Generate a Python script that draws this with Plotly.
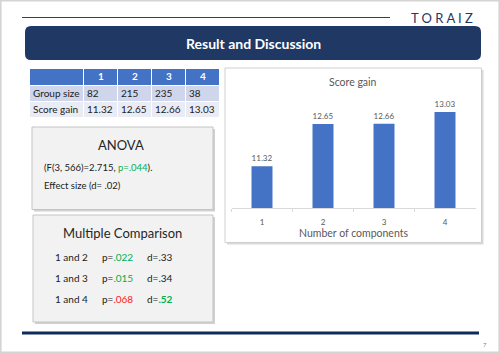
import plotly.graph_objects as go

# ---------------- data ----------------
components = ["1", "2", "3", "4"]
group_size = [82, 215, 235, 38]
score_gain = [11.32, 12.65, 12.66, 13.03]
row_labels = ["Group size", "Score gain"]

anova_stat = "(F(3, 566)=2.715, "
anova_p = "p=.044"
effect_size = "Effect size (d= .02)"

pairs = ["1 and 2", "1 and 3", "1 and 4"]
pair_p = [".022", ".015", ".068"]
pair_p_sig = [True, True, False]
pair_d = [".33", ".34", ".52"]
pair_d_big = [False, False, True]

W, H = 500, 353
FONT = "Lato, 'Open Sans', sans-serif"
NAVY = "#1F3864"
BLUE = "#4472C4"
GREEN = "#00B050"
RED = "#FF2020"
GRAY = "#595959"


def X(px):
    return px / W


def Y(py):
    return 1 - py / H


fig = go.Figure()

# ---------------- bar chart ----------------
fig.add_trace(go.Bar(
    x=components, y=score_gain,
    marker=dict(color=BLUE, line=dict(width=0)),
    texttemplate="%{y:.2f}", textposition="outside",
    textfont=dict(size=8, color=GRAY, family=FONT),
    cliponaxis=False, hoverinfo="skip",
    xaxis="x", yaxis="y",
))

# ---------------- table (heatmap cells + text) ----------------
col_w = [54, 34, 34, 34, 34]
row_h = [17, 16, 16]
col_edges = [0]
for w in col_w:
    col_edges.append(col_edges[-1] + w)
row_edges = [0]
for h in row_h:
    row_edges.append(row_edges[-1] + h)
col_left = col_edges[:-1]
col_mid = [(a + b) / 2 for a, b in zip(col_edges[:-1], col_edges[1:])]
row_mid = [(a + b) / 2 for a, b in zip(row_edges[:-1], row_edges[1:])]

fig.add_trace(go.Heatmap(
    x=col_edges, y=row_edges,
    z=[[0] * 5, [1] * 5, [2] * 5],
    zmin=0, zmax=2, showscale=False, hoverinfo="skip",
    colorscale=[[0, BLUE], [0.5, "#CFD5EA"], [1, "#E9EBF5"]],
    xgap=1, ygap=1, xaxis="x2", yaxis="y2",
))
# header
fig.add_trace(go.Scatter(
    x=col_mid[1:], y=[row_mid[0]] * 4, mode="text",
    text=["<b>%s</b>" % c for c in components], textposition="middle center",
    textfont=dict(size=10, color="white", family=FONT),
    hoverinfo="skip", cliponaxis=False, xaxis="x2", yaxis="y2",
))
# body
body_x, body_y, body_t = [], [], []
for r, (lab, vals) in enumerate(zip(row_labels, [[str(g) for g in group_size],
                                                  ["%.2f" % s for s in score_gain]])):
    cells = [lab] + vals
    for c, t in enumerate(cells):
        body_x.append(col_left[c] + 3)
        body_y.append(row_mid[r + 1])
        body_t.append(t)
fig.add_trace(go.Scatter(
    x=body_x, y=body_y, mode="text", text=body_t, textposition="middle right",
    textfont=dict(size=10, color="#222222", family=FONT),
    hoverinfo="skip", cliponaxis=False, xaxis="x2", yaxis="y2",
))


def rounded_rect(x0, y0, x1, y1, r):
    pts = [
        f"M {X(x0 + r)} {Y(y0)}",
        f"L {X(x1 - r)} {Y(y0)}",
        f"Q {X(x1)} {Y(y0)} {X(x1)} {Y(y0 + r)}",
        f"L {X(x1)} {Y(y1 - r)}",
        f"Q {X(x1)} {Y(y1)} {X(x1 - r)} {Y(y1)}",
        f"L {X(x0 + r)} {Y(y1)}",
        f"Q {X(x0)} {Y(y1)} {X(x0)} {Y(y1 - r)}",
        f"L {X(x0)} {Y(y0 + r)}",
        f"Q {X(x0)} {Y(y0)} {X(x0 + r)} {Y(y0)}",
        "Z",
    ]
    return " ".join(pts)


def rect(x0, y0, x1, y1, fill, line=None, lw=1):
    return dict(type="rect", xref="paper", yref="paper", layer="below",
                x0=X(x0), x1=X(x1), y0=Y(y1), y1=Y(y0),
                fillcolor=fill, line=dict(color=line or "rgba(0,0,0,0)", width=lw if line else 0))


shapes = [
    dict(type="rect", xref="paper", yref="paper", layer="below",
         x0=X(0.8), x1=X(499.2), y0=Y(352.2), y1=Y(0.8),
         fillcolor="white", line=dict(color="#D4D4D4", width=1.6)),
    dict(type="line", xref="paper", yref="paper", x0=X(22), x1=X(390), y0=Y(17.5), y1=Y(17.5),
         line=dict(color="#3F3F3F", width=1)),
    dict(type="path", xref="paper", yref="paper", path=rounded_rect(25, 26, 481, 60, 6),
         fillcolor=NAVY, line=dict(width=0)),
    rect(227, 70, 483.5, 244.5, "#DADADA"),
    rect(225, 68, 481.5, 242.5, "white", "#CFCFCF", 1),
    rect(34, 129, 215, 211.5, "rgba(0,0,0,0.18)"),
    rect(32, 127, 213, 209.5, "#F2F2F2", "#C4C4C4", 1),
    rect(35, 217, 215, 324, "rgba(0,0,0,0.18)"),
    rect(33, 215, 213, 322, "#F2F2F2", "#C4C4C4", 1),
    dict(type="line", xref="paper", yref="paper", x0=X(22), x1=X(479), y0=Y(333), y1=Y(333),
         line=dict(color="#0F2B5B", width=3)),
]


def ann(x, y, text, size, color="#262626", xanchor="center", bold=False):
    return dict(x=X(x), y=Y(y), xref="paper", yref="paper", text=("<b>%s</b>" % text) if bold else text,
                showarrow=False, xanchor=xanchor, yanchor="middle",
                font=dict(size=size, color=color, family=FONT))


annotations = [
    ann(442, 18, "T O R A I Z", 13, NAVY),
    ann(253, 43, "Result and Discussion", 14, "white", bold=True),
    ann(353, 82, "Score gain", 10.5, GRAY),
    ann(353, 233, "Number of components", 10.5, GRAY),
    ann(121, 145, "ANOVA", 13),
    ann(42, 167, anova_stat + '<span style="color:%s">%s</span>).' % (GREEN, anova_p), 9.5, "#1a1a1a", "left"),
    ann(42, 185, effect_size, 9.5, "#1a1a1a", "left"),
    ann(122, 233, "Multiple Comparison", 13),
    ann(485, 344, "7", 6, "#7F7F7F"),
]
row_y = [257, 278, 299]
for yy, pr, p, ps, d, db in zip(row_y, pairs, pair_p, pair_p_sig, pair_d, pair_d_big):
    annotations.append(ann(53, yy, pr, 10, "#1a1a1a", "left"))
    annotations.append(ann(100, yy, 'p=<span style="color:%s">%s</span>' % (GREEN if ps else RED, p),
                           10, "#1a1a1a", "left"))
    d_txt = ('d=<span style="color:%s"><b>%s</b></span>' % (GREEN, d)) if db else "d=%s" % d
    annotations.append(ann(145, yy, d_txt, 10, "#1a1a1a", "left"))

fig.update_layout(
    width=W, height=H, margin=dict(l=0, r=0, t=0, b=0),
    paper_bgcolor="white", plot_bgcolor="rgba(0,0,0,0)",
    showlegend=False, bargap=0.656,
    font=dict(family=FONT),
    xaxis=dict(domain=[X(231.5), X(475.5)], anchor="y", type="category",
               range=[-0.5, 3.5], showgrid=False, zeroline=False,
               showline=True, linecolor="#D9D9D9", linewidth=1,
               ticks="outside", tickson="boundaries", ticklen=3, tickcolor="#D9D9D9",
               tickfont=dict(size=8, color=GRAY, family=FONT), ticklabelstandoff=6),
    yaxis=dict(domain=[Y(208), Y(97)], anchor="x", range=[10, 13.5],
               visible=False, showgrid=False, zeroline=False),
    xaxis2=dict(domain=[X(30), X(220)], anchor="y2", range=[0, sum(col_w)],
                visible=False, showgrid=False, zeroline=False, fixedrange=True),
    yaxis2=dict(domain=[Y(118), Y(69)], anchor="x2", range=[sum(row_h), 0],
                visible=False, showgrid=False, zeroline=False, fixedrange=True),
    shapes=shapes, annotations=annotations,
)

fig.write_html("out.html")
